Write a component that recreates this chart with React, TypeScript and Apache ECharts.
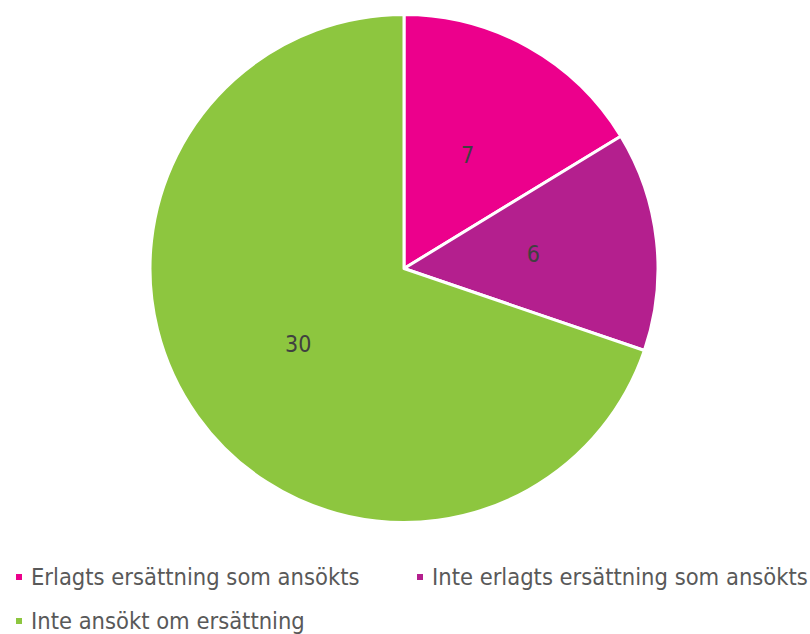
import React, { useEffect, useRef } from "react";
import * as echarts from "echarts";

const categories = [
  "Erlagts ersättning som ansökts",
  "Inte erlagts ersättning som ansökts",
  "Inte ansökt om ersättning",
];
const values = [7, 6, 30];
const colors = ["#EC008C", "#B41F8E", "#8DC63F"];
const FONT = "'DejaVu Sans Condensed', Roboto, sans-serif";

export default function App() {
  const ref = useRef<HTMLDivElement>(null);
  useEffect(() => {
    const chart = echarts.init(ref.current!, null, { renderer: "svg" });
    const legendPos = [
      { left: 14, top: 565 },
      { left: 415, top: 565 },
      { left: 14, top: 609 },
    ];
    chart.setOption({
      animation: false,
      color: colors,
      legend: categories.map((name, i) => ({
        ...legendPos[i],
        padding: 0,
        orient: "horizontal",
        icon: "rect",
        itemWidth: 8,
        itemHeight: 8,
        itemGap: 9,
        textStyle: {
          fontFamily: FONT,
          fontSize: 23.5,
          color: "#595959",
          padding: [0, 0, 0, 3],
        },
        data: [name],
      })),
      series: [
        {
          type: "pie",
          center: [404, 268.5],
          radius: 254,
          startAngle: 90,
          clockwise: true,
          itemStyle: { borderColor: "#ffffff", borderWidth: 3 },
          label: {
            show: true,
            position: "inside",
            formatter: "{c}",
            fontFamily: FONT,
            fontSize: 23,
            color: "#404040",
          },
          labelLine: { show: false },
          emphasis: { disabled: true },
          data: categories.map((name, i) => ({ name, value: values[i] })),
        },
      ],
    });
    return () => chart.dispose();
  }, []);
  return <div ref={ref} style={{ width: 810, height: 634, position: "absolute", left: 0, top: 0 }} />;
}
